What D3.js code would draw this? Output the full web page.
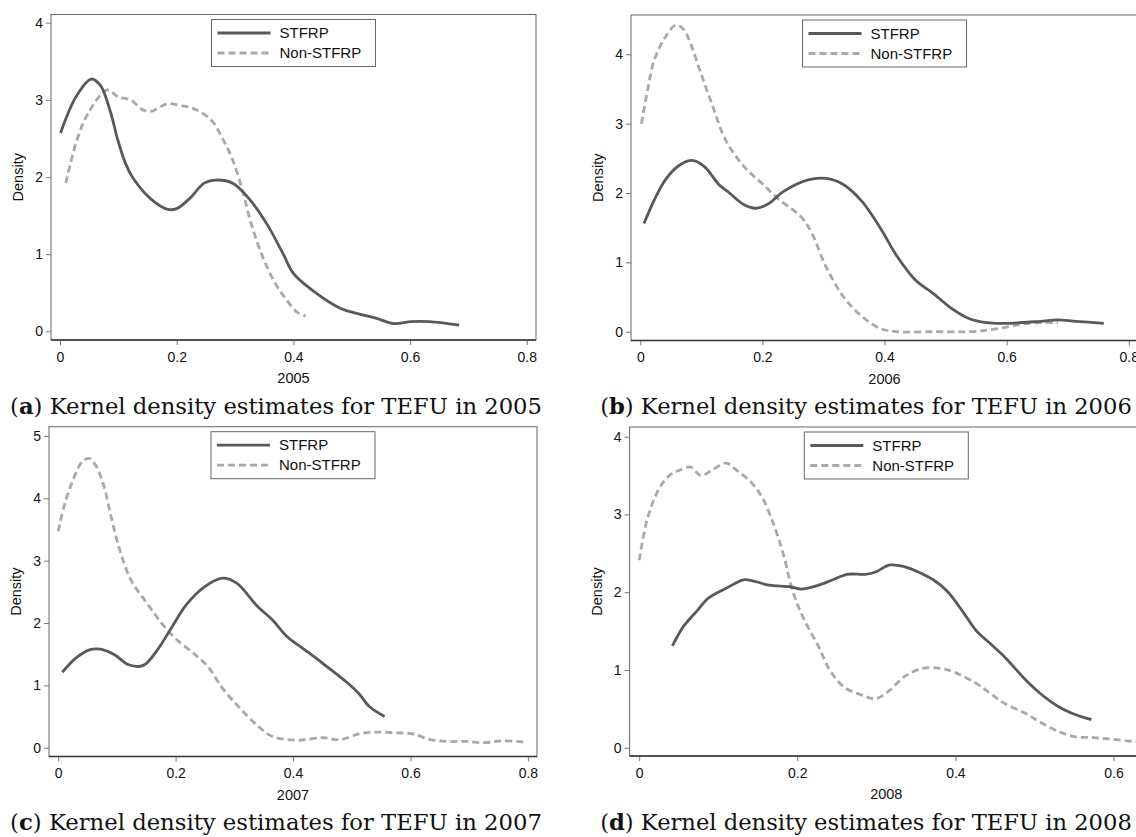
<!DOCTYPE html>
<html lang="en">
<head>
<meta charset="utf-8" />
<title>Kernel density estimates for TEFU</title>
<script src="https://cdn.jsdelivr.net/npm/d3@7"></script>
<style>
  body { margin: 0; background: #fff; }
  svg { display: block; font-family: "Liberation Sans", Arial, sans-serif; }
  .caption { font-family: "DejaVu Serif", serif; fill: #111; }
</style>
</head>
<body>
<svg id="chart" width="1136" height="837"></svg>
<script>
// ---- data: [TEFU, density] ----
const seriesNames = ["STFRP", "Non-STFRP"];
const xTicks = [0, 0.2, 0.4, 0.6, 0.8];
const yTicks4 = [0, 1, 2, 3, 4];
const yTicks5 = [0, 1, 2, 3, 4, 5];

const stfrp2005 = [[0.001,2.57],[0.014,2.83],[0.029,3.06],[0.053,3.27],[0.069,3.19],[0.087,2.83],[0.099,2.48],
  [0.112,2.18],[0.124,2.0],[0.155,1.72],[0.185,1.58],[0.2,1.59],[0.222,1.72],[0.247,1.92],[0.265,1.96],
  [0.296,1.92],[0.326,1.70],[0.357,1.36],[0.382,1.01],[0.4,0.75],[0.431,0.54],[0.48,0.30],[0.51,0.23],
  [0.541,0.17],[0.572,0.10],[0.602,0.125],[0.633,0.125],[0.684,0.08]];
const non2005 = [[0.010,1.92],[0.029,2.48],[0.05,2.85],[0.081,3.13],[0.099,3.04],[0.121,3.0],[0.142,2.87],
  [0.155,2.85],[0.185,2.95],[0.204,2.93],[0.228,2.89],[0.259,2.74],[0.277,2.52],[0.296,2.22],[0.314,1.79],
  [0.326,1.44],[0.345,1.01],[0.369,0.62],[0.388,0.41],[0.406,0.25],[0.421,0.2]];

const stfrp2006 = [[0.006,1.56],[0.023,1.90],[0.041,2.19],[0.064,2.40],[0.085,2.47],[0.105,2.38],[0.129,2.12],
  [0.146,2.0],[0.17,1.83],[0.19,1.78],[0.211,1.85],[0.234,2.02],[0.275,2.19],[0.304,2.21],[0.333,2.12],
  [0.363,1.88],[0.392,1.51],[0.421,1.08],[0.45,0.75],[0.48,0.55],[0.509,0.34],[0.538,0.19],[0.567,0.13],
  [0.596,0.12],[0.655,0.15],[0.684,0.17],[0.713,0.15],[0.759,0.12]];
const non2006 = [[0.002,3.0],[0.012,3.49],[0.023,3.92],[0.041,4.25],[0.058,4.42],[0.07,4.37],[0.082,4.16],
  [0.099,3.73],[0.117,3.29],[0.14,2.76],[0.17,2.38],[0.199,2.14],[0.228,1.9],[0.263,1.66],[0.281,1.42],
  [0.304,0.94],[0.333,0.5],[0.363,0.22],[0.392,0.05],[0.421,0.0],[0.48,0.0],[0.538,0.0],[0.567,0.02],
  [0.596,0.06],[0.626,0.11],[0.655,0.13],[0.684,0.13]];

const stfrp2007 = [[0.007,1.21],[0.029,1.43],[0.053,1.57],[0.072,1.58],[0.096,1.49],[0.12,1.33],[0.145,1.32],
  [0.169,1.57],[0.194,1.94],[0.218,2.29],[0.249,2.58],[0.28,2.72],[0.304,2.64],[0.34,2.26],[0.365,2.05],
  [0.39,1.78],[0.42,1.57],[0.451,1.35],[0.494,1.03],[0.512,0.87],[0.53,0.66],[0.556,0.5]];
const non2007 = [[0.0,3.47],[0.01,3.87],[0.023,4.24],[0.041,4.59],[0.053,4.64],[0.065,4.51],[0.078,4.19],
  [0.09,3.71],[0.105,3.17],[0.124,2.69],[0.151,2.32],[0.176,2.0],[0.2,1.75],[0.231,1.51],[0.255,1.3],
  [0.28,0.95],[0.31,0.63],[0.341,0.34],[0.365,0.18],[0.408,0.12],[0.451,0.16],[0.481,0.13],[0.512,0.22],
  [0.543,0.25],[0.573,0.24],[0.604,0.22],[0.634,0.13],[0.665,0.1],[0.695,0.1],[0.726,0.08],[0.757,0.11],
  [0.793,0.09]];

const stfrp2008 = [[0.042,1.31],[0.056,1.56],[0.074,1.77],[0.087,1.92],[0.11,2.05],[0.132,2.16],[0.146,2.14],
  [0.164,2.09],[0.191,2.07],[0.205,2.04],[0.227,2.09],[0.245,2.16],[0.263,2.23],[0.286,2.23],[0.299,2.26],
  [0.317,2.35],[0.335,2.33],[0.353,2.26],[0.372,2.16],[0.39,2.01],[0.408,1.77],[0.426,1.51],[0.444,1.34],
  [0.462,1.17],[0.489,0.87],[0.507,0.70],[0.53,0.53],[0.548,0.44],[0.572,0.36]];
const non2008 = [[0.0,2.41],[0.01,2.93],[0.024,3.31],[0.037,3.49],[0.051,3.57],[0.065,3.61],[0.078,3.5],
  [0.092,3.57],[0.11,3.66],[0.123,3.57],[0.141,3.42],[0.155,3.23],[0.168,2.93],[0.182,2.5],[0.195,1.99],
  [0.209,1.64],[0.227,1.3],[0.241,1.0],[0.259,0.78],[0.281,0.68],[0.299,0.63],[0.317,0.74],[0.335,0.91],
  [0.358,1.02],[0.381,1.02],[0.399,0.97],[0.426,0.83],[0.444,0.7],[0.462,0.57],[0.489,0.44],[0.507,0.33],
  [0.53,0.21],[0.552,0.14],[0.575,0.13],[0.597,0.11],[0.627,0.08],[0.65,0.07]];

// ---- panel layout (pixel placement of each subfigure) ----
const panels = [
  { letter: "a", year: "2005", stfrp: stfrp2005, non: non2005, yTicks: yTicks4,
    box: [51, 14.5, 536, 340], xr: [60, 526.8], yr: [331.3, 22.7], yMax: 4, cap: [276, 414] },
  { letter: "b", year: "2006", stfrp: stfrp2006, non: non2006, yTicks: yTicks4,
    box: [631, 15, 1138, 340.5], xr: [640.3, 1128.8], yr: [331.7, 54.3], yMax: 4, cap: [866, 414] },
  { letter: "c", year: "2007", stfrp: stfrp2007, non: non2007, yTicks: yTicks5,
    box: [49, 426.7, 537, 756.5], xr: [58.2, 527.9], yr: [747.7, 436], yMax: 5, cap: [276, 830] },
  { letter: "d", year: "2008", stfrp: stfrp2008, non: non2008, yTicks: yTicks4,
    box: [629.6, 427, 1143, 756], xr: [639.2, 1113.5], xMax: 0.6, yr: [747.7, 436.7], yMax: 4, cap: [866, 830] }
];

const svg = d3.select("#chart");
const fmtX = d => d === 0 ? "0" : d3.format(".1f")(d);

panels.forEach(p => {
  const [bx0, by0, bx1, by1] = p.box;
  const x = d3.scaleLinear().domain([0, p.xMax || 0.8]).range(p.xr);
  const y = d3.scaleLinear().domain([0, p.yMax]).range(p.yr);
  const g = svg.append("g");

  // plot region outline
  g.append("rect")
    .attr("x", bx0).attr("y", by0)
    .attr("width", bx1 - bx0).attr("height", by1 - by0)
    .attr("fill", "none").attr("stroke", "#666").attr("stroke-width", 1);

  // axes
  const xAxis = g.append("g")
    .attr("transform", `translate(0,${by1})`)
    .call(d3.axisBottom(x).tickValues(xTicks).tickFormat(fmtX).tickSize(5).tickPadding(7));
  const yAxis = g.append("g")
    .attr("transform", `translate(${bx0},0)`)
    .call(d3.axisLeft(y).tickValues(p.yTicks).tickFormat(d3.format("d")).tickSize(5).tickPadding(3));
  [xAxis, yAxis].forEach(a => {
    a.select(".domain").remove();
    a.attr("font-family", null).attr("font-size", null);
    a.selectAll(".tick line").attr("stroke", "#777");
    a.selectAll(".tick text").attr("fill", "#111").style("font-size", "14px");
  });
  g.append("line")
    .attr("x1", bx0).attr("x2", bx1).attr("y1", by1).attr("y2", by1)
    .attr("stroke", "#333").attr("stroke-width", 1.5);

  // axis titles
  g.append("text")
    .attr("x", (bx0 + bx1) / 2).attr("y", by1 + 43)
    .attr("text-anchor", "middle").style("font-size", "14.5px").attr("fill", "#111")
    .text(p.year);
  g.append("text")
    .attr("transform", `translate(${bx0 - 28},${(by0 + by1) / 2}) rotate(-90)`)
    .attr("text-anchor", "middle").style("font-size", "14.5px").attr("fill", "#111")
    .text("Density");

  // curves
  const line = d3.line()
    .x(d => x(d[0])).y(d => y(d[1]))
    .curve(d3.curveCatmullRom.alpha(0.5));
  g.append("path").datum(p.non)
    .attr("d", line).attr("fill", "none")
    .attr("stroke", "#a9a9a9").attr("stroke-width", 2.8)
    .attr("stroke-dasharray", "7,4");
  g.append("path").datum(p.stfrp)
    .attr("d", line).attr("fill", "none")
    .attr("stroke", "#595959").attr("stroke-width", 2.8);

  // legend
  const lw = 164, lh = 47;
  const lg = g.append("g")
    .attr("transform", `translate(${(bx0 + bx1) / 2 - lw / 2},${by0 + 5})`);
  lg.append("rect").attr("width", lw).attr("height", lh)
    .attr("fill", "#fff").attr("stroke", "#666").attr("stroke-width", 1);
  seriesNames.forEach((name, i) => {
    const yy = 13.5 + i * 20;
    lg.append("line")
      .attr("x1", 6).attr("x2", 59).attr("y1", yy).attr("y2", yy)
      .attr("stroke", i === 0 ? "#595959" : "#a9a9a9").attr("stroke-width", 2.8)
      .attr("stroke-dasharray", i === 0 ? null : "7,4");
    lg.append("text")
      .attr("x", 68).attr("y", yy).attr("dy", "0.35em")
      .style("font-size", "15px").attr("fill", "#111")
      .text(name);
  });

  // subfigure caption
  const cap = svg.append("text")
    .attr("class", "caption")
    .attr("x", p.cap[0]).attr("y", p.cap[1])
    .attr("text-anchor", "middle")
    .style("font-size", "22px");
  cap.append("tspan").text("(");
  cap.append("tspan").attr("font-weight", "bold").text(p.letter);
  cap.append("tspan").text(`) Kernel density estimates for TEFU in ${p.year}`);
  const w = cap.node().getComputedTextLength();
  cap.style("font-size", (22 * 532 / w).toFixed(2) + "px");
});
</script>
</body>
</html>
